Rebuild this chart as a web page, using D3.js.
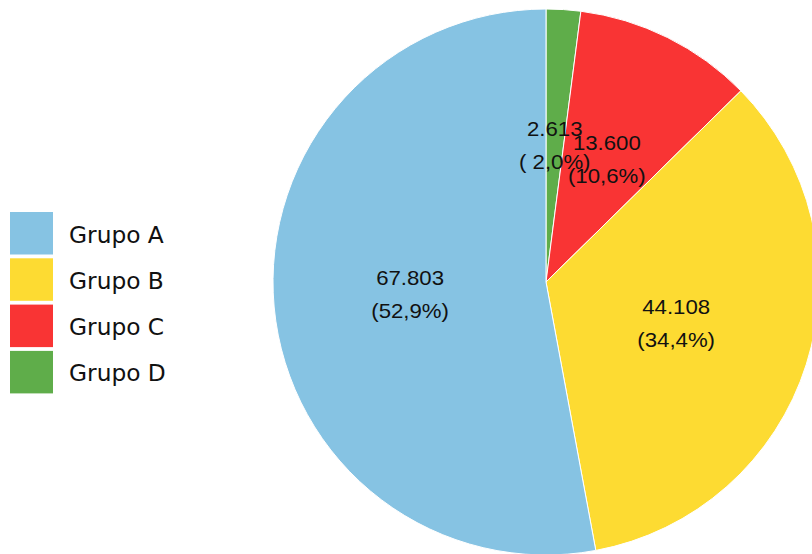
<!DOCTYPE html>
<html><head><meta charset="utf-8">
<script src="https://cdn.jsdelivr.net/npm/d3@7"></script>
<style>html,body{margin:0;padding:0;background:#fff;overflow:hidden}</style>
</head><body>
<svg id="chart" width="812" height="554"></svg>
<script>
const categories = ["Grupo A", "Grupo B", "Grupo C", "Grupo D"];
const values = [67803, 44108, 13600, 2613];
const colors = ["#86c3e3", "#fddb32", "#f93434", "#5fad4a"];

const W = 812, H = 554;
const cx = 546, cy = 282, R = 273;
const svg = d3.select("#chart");
const loc = d3.formatLocale({decimal: ",", thousands: ".", grouping: [3], currency: ["", ""]});
const fmtN = loc.format(",d");
const fmtP = loc.format(".1f");
const total = d3.sum(values);

const data = categories.map((c, i) => ({cat: c, value: values[i], color: colors[i]}));
// Pie drawn clockwise from top in reverse order (D, C, B, A)
const pie = d3.pie().value(d => d.value).sort(null);
const arcsData = pie(data.slice().reverse());
const arc = d3.arc().innerRadius(0).outerRadius(R);
const g = svg.append("g").attr("transform", `translate(${cx},${cy})`);
g.selectAll("path").data(arcsData).join("path")
  .attr("d", arc).attr("fill", d => d.data.color)
  .attr("stroke", "#fff").attr("stroke-width", 1);

const labelArc = d3.arc().innerRadius(R * 0.5).outerRadius(R * 0.5);
const lab = g.selectAll("g.lab").data(arcsData).join("g").attr("class", "lab")
  .attr("transform", d => { const [x, y] = labelArc.centroid(d); return `translate(${x},${y}) scale(1.11,1)`; });
lab.append("text").attr("text-anchor", "middle").attr("y", -9.5)
  .style("font-family", "'Liberation Sans', Arial, sans-serif").style("font-size", "20px")
  .attr("fill", "#111")
  .text(d => fmtN(d.data.value));
lab.append("text").attr("text-anchor", "middle").attr("y", 23.5)
  .style("font-family", "'Liberation Sans', Arial, sans-serif").style("font-size", "20px")
  .attr("fill", "#111")
  .text(d => { const p = fmtP(d.data.value / total * 100); return "(" + (p.length < 4 ? " " + p : p) + "%)"; });

// legend
const leg = svg.append("g");
const legY = d3.scaleBand().domain(categories).range([212, 212 + 4 * 46.3]);
const li = leg.selectAll("g").data(data).join("g")
  .attr("transform", d => `translate(10,${legY(d.cat)})`);
li.append("rect").attr("width", 43).attr("height", 42.5).attr("fill", d => d.color);
li.append("text").attr("x", 59).attr("y", 30.5)
  .style("font-family", "'DejaVu Sans', sans-serif").style("font-size", "23.3px")
  .attr("fill", "#111").text(d => d.cat);
</script>
</body></html>
